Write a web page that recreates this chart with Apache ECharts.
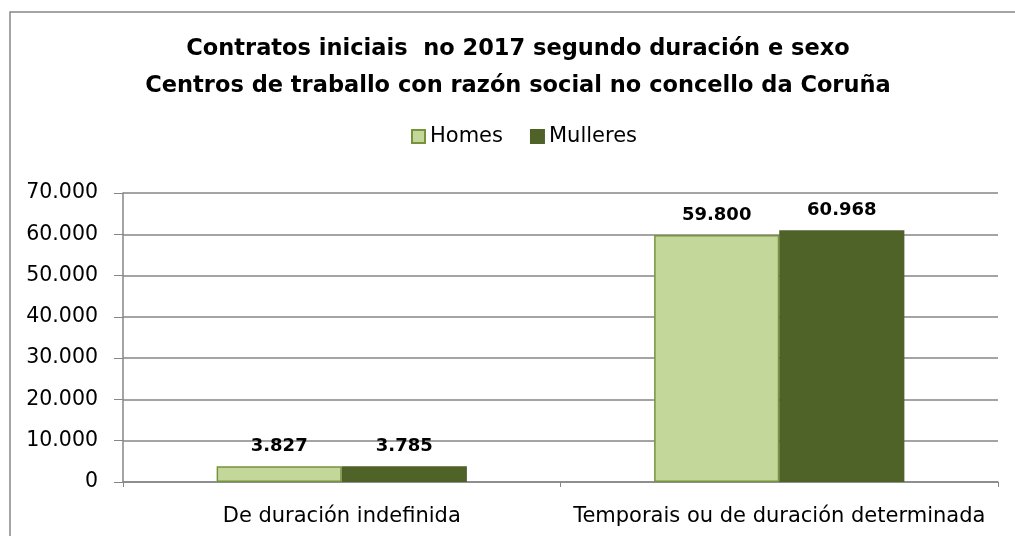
<!DOCTYPE html>
<html>
<head>
<meta charset="utf-8">
<script src="https://cdn.jsdelivr.net/npm/echarts@6/dist/echarts.min.js"></script>
<style>
	html, body { margin: 0; padding: 0; background: #fff; }
	#chart { width: 1015px; height: 536px; }
</style>
</head>
<body>
<div id="chart"></div>
<script>
// data
const categories = ['De duración indefinida', 'Temporais ou de duración determinada'];
const homes = [3827, 59800];
const mulleres = [3785, 60968];
const seriesNames = ['Homes', 'Mulleres'];

const fmt = (v) => String(v).replace(/\B(?=(\d{3})+(?!\d))/g, '.');

const chart = echarts.init(document.getElementById('chart'));

const labelStyle = {
	show: true,
	position: 'top',
	distance: 11,
	color: '#000',
	fontFamily: 'DejaVu Sans',
	fontWeight: 'bold',
	fontSize: 18,
	formatter: (p) => fmt(p.value),
};

chart.setOption({
	animation: false,
	backgroundColor: '#fff',
	graphic: [
		{
			type: 'rect',
			shape: { x: 10, y: 12, width: 1020, height: 540 },
			style: { fill: 'none', stroke: '#868686', lineWidth: 1.5 },
			silent: true,
		},
	],
	title: {
		text: 'Contratos iniciais  no 2017 segundo duración e sexo\nCentros de traballo con razón social no concello da Coruña',
		left: 513,
		textAlign: 'center',
		top: 26,
		textStyle: {
			fontFamily: 'DejaVu Sans',
			fontWeight: 'bold',
			fontSize: 22.5,
			lineHeight: 37,
			color: '#000',
		},
	},
	legend: {
		top: 121,
		left: 406,
		icon: 'rect',
		itemWidth: 13,
		itemHeight: 13,
		itemGap: 27,
		textStyle: { fontFamily: 'DejaVu Sans', fontSize: 21, color: '#000', padding: [0, 0, 0, 0] },
		data: seriesNames,
	},
	grid: { left: 123, right: 17, top: 193, bottom: 54 },
	xAxis: {
		type: 'category',
		data: categories,
		axisLine: { lineStyle: { color: '#868686', width: 1.5 } },
		axisTick: { show: true, length: 5, lineStyle: { color: '#868686' } },
		axisLabel: { interval: 0, color: '#000', fontFamily: 'DejaVu Sans', fontSize: 21, margin: 24 },
	},
	yAxis: {
		type: 'value',
		min: 0,
		max: 70000,
		interval: 10000,
		axisLine: { show: true, lineStyle: { color: '#868686', width: 1.5 } },
		axisTick: { show: true, length: 9, lineStyle: { color: '#868686' } },
		axisLabel: { color: '#000', fontFamily: 'DejaVu Sans', fontSize: 20.5, margin: 25, formatter: fmt },
		splitLine: { lineStyle: { color: '#868686', width: 1.5 } },
	},
	series: [
		{
			name: seriesNames[0],
			type: 'bar',
			data: homes,
			barWidth: '28.6%',
			barGap: '0%',
			itemStyle: { color: '#C4D79B', borderColor: '#77933C', borderWidth: 1.5 },
			label: labelStyle,
		},
		{
			name: seriesNames[1],
			type: 'bar',
			data: mulleres,
			barWidth: '28.6%',
			itemStyle: { color: '#4F6228', borderColor: '#4F6228', borderWidth: 1.5 },
			label: labelStyle,
		},
	],
});
</script>
</body>
</html>
